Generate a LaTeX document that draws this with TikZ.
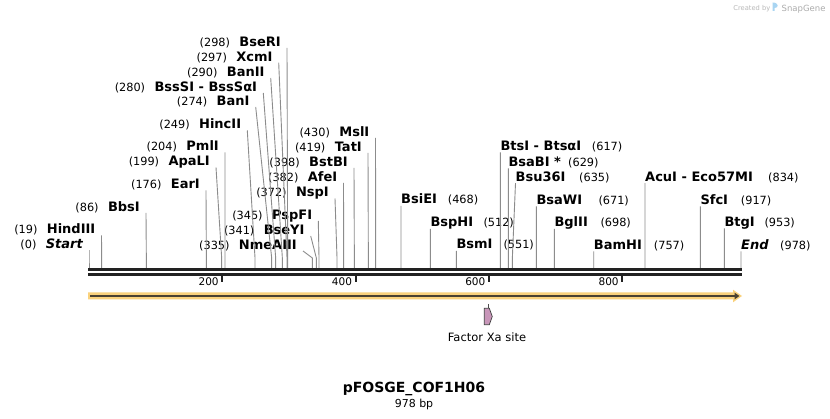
\documentclass[tikz,border=0pt]{standalone}
\usepackage{fontspec}
\setmainfont{DejaVu Sans}
\usetikzlibrary{positioning,arrows.meta}

\definecolor{cutgray}{HTML}{8C8C8C}
\definecolor{axisblk}{HTML}{222222}
\definecolor{featorange}{HTML}{FAD27D}
\definecolor{featdark}{HTML}{4B4232}
\definecolor{xapink}{HTML}{C896B9}
\definecolor{sgblue}{HTML}{A9D5F2}

\tikzset{
  enz/.style={inner sep=0pt, font=\fontsize{13}{15}\selectfont\bfseries},
  num/.style={inner sep=0pt, font=\fontsize{11.3}{13}\selectfont},
  cutline/.style={draw=cutgray, line width=0.9pt},
  ticklbl/.style={inner sep=0pt, font=\fontsize{10.5}{12}\selectfont},
}

\begin{document}
\begin{tikzpicture}[x=1pt,y=-1pt]
  \fill[white] (0,0) rectangle (830,419);
  \useasboundingbox (0,0) rectangle (830,419);

  \node[inner sep=0pt, anchor=base east, text=gray!55, font=\fontsize{6.7}{8}\selectfont] (made) at (770.5,11) {Created by};
  \fill[sgblue] (772.5,11) -- (772.5,2.5) .. controls (779,2.5) and (779,8) .. (774.7,8) -- (774.7,11) -- cycle;
  \node[inner sep=0pt, anchor=base west, text=gray!65, font=\fontsize{8.5}{10}\selectfont] (sg) at (781.5,11.5) {SnapGene};

  % left hand labels
  \node[enz, anchor=base east] (st) at (83,249) {\itshape Start};
  \node[num, base left=9pt of st] (stN) {(0)};
  \node[enz, anchor=base east] (hind) at (95.5,234) {HindIII};
  \node[num, base left=9pt of hind] (hindN) {(19)};
  \node[enz, anchor=base east] (bbs) at (140,211.5) {BbsI};
  \node[num, base left=9pt of bbs] (bbsN) {(86)};
  \node[enz, anchor=base east] (ear) at (200,189) {EarI};
  \node[num, base left=9pt of ear] (earN) {(176)};
  \node[enz, anchor=base east] (apal) at (210,166) {ApaLI};
  \node[num, base left=9pt of apal] (apalN) {(199)};
  \node[enz, anchor=base east] (pml) at (219,151) {PmlI};
  \node[num, base left=9pt of pml] (pmlN) {(204)};
  \node[enz, anchor=base east] (hinc) at (241.3,129) {HincII};
  \node[num, base left=9pt of hinc] (hincN) {(249)};
  \node[enz, anchor=base east] (ban) at (249.7,105.5) {BanI};
  \node[num, base left=9pt of ban] (banN) {(274)};
  \node[enz, anchor=base east] (bsss) at (257.3,91.5) {BssSI - BssSαI};
  \node[num, base left=9pt of bsss] (bsssN) {(280)};
  \node[enz, anchor=base east] (banii) at (264.7,76.5) {BanII};
  \node[num, base left=9pt of banii] (baniiN) {(290)};
  \node[enz, anchor=base east] (xcm) at (272.7,61.2) {XcmI};
  \node[num, base left=9pt of xcm] (xcmN) {(297)};
  \node[enz, anchor=base east] (bser) at (281,46.5) {BseRI};
  \node[num, base left=9pt of bser] (bserN) {(298)};
  \node[enz, anchor=base east] (nme) at (297,249.5) {NmeAIII};
  \node[num, base left=9pt of nme] (nmeN) {(335)};
  \node[enz, anchor=base east] (bsey) at (304.7,234.5) {BseYI};
  \node[num, base left=9pt of bsey] (bseyN) {(341)};
  \node[enz, anchor=base east] (pspf) at (312.3,219.5) {PspFI};
  \node[num, base left=9pt of pspf] (pspfN) {(345)};
  \node[enz, anchor=base east] (nsp) at (329,197) {NspI};
  \node[num, base left=9pt of nsp] (nspN) {(372)};
  \node[enz, anchor=base east] (afe) at (337.5,181.5) {AfeI};
  \node[num, base left=9pt of afe] (afeN) {(382)};
  \node[enz, anchor=base east] (bstb) at (348,166.5) {BstBI};
  \node[num, base left=9pt of bstb] (bstbN) {(398)};
  \node[enz, anchor=base east] (tat) at (362,151.5) {TatI};
  \node[num, base left=9pt of tat] (tatN) {(419)};
  \node[enz, anchor=base east] (msl) at (369.5,136.5) {MslI};
  \node[num, base left=9pt of msl] (mslN) {(430)};

  % right hand labels
  \node[enz, anchor=base west] (bsie) at (401,204) {BsiEI};
  \node[num, anchor=base west] (bsieN) at (447.7,204) {(468)};
  \node[enz, anchor=base west] (bsph) at (430.3,227) {BspHI};
  \node[num, anchor=base west] (bsphN) at (483.3,227) {(512)};
  \node[enz, anchor=base west] (bsm) at (456.3,249) {BsmI};
  \node[num, anchor=base west] (bsmN) at (503.3,249) {(551)};
  \node[enz, anchor=base west] (bts) at (500.3,150.5) {BtsI - BtsαI};
  \node[num, anchor=base west] (btsN) at (591.7,150.5) {(617)};
  \node[enz, anchor=base west] (bsab) at (508.3,166.5) {BsaBI *};
  \node[num, anchor=base west] (bsabN) at (568,166.5) {(629)};
  \node[enz, anchor=base west] (bsu) at (515.5,181.2) {Bsu36I};
  \node[num, anchor=base west] (bsuN) at (579,181.2) {(635)};
  \node[enz, anchor=base west] (bsaw) at (536.3,204.5) {BsaWI};
  \node[num, anchor=base west] (bsawN) at (598.3,204.5) {(671)};
  \node[enz, anchor=base west] (bgl) at (554.3,226.8) {BglII};
  \node[num, anchor=base west] (bglN) at (600.3,226.8) {(698)};
  \node[enz, anchor=base west] (bam) at (593.7,249.5) {BamHI};
  \node[num, anchor=base west] (bamN) at (653.7,249.5) {(757)};
  \node[enz, anchor=base west] (acu) at (645,181.2) {AcuI - Eco57MI};
  \node[num, anchor=base west] (acuN) at (768,181.2) {(834)};
  \node[enz, anchor=base west] (sfc) at (700.3,204.5) {SfcI};
  \node[num, anchor=base west] (sfcN) at (740.7,204.5) {(917)};
  \node[enz, anchor=base west] (btg) at (724.3,226.5) {BtgI};
  \node[num, anchor=base west] (btgN) at (764.3,226.5) {(953)};
  \node[enz, anchor=base west] (en) at (741,249.5) {\itshape End};
  \node[num, anchor=base west] (enN) at (780,249.5) {(978)};

  \foreach \n/\p in {st/0,hind/19,bbs/86,ear/176,apal/199,pml/204,hinc/249,ban/274,bsss/280,banii/290,xcm/297,bser/298,nme/335,bsey/341,pspf/345,nsp/372,afe/382,bstb/398,tat/419,msl/430}{
    \coordinate (c\n) at ({89+\p*0.6667},269);
    \draw[cutline] ([shift={(6,1.5)}]\n.base east) -- ({89+\p*0.6667},258) -- (c\n);
  }
  \foreach \n/\p in {bsie/468,bsph/512,bsm/551,bts/617,bsab/629,bsu/635,bsaw/671,bgl/698,bam/757,acu/834,sfc/917,btg/953,en/978}{
    \coordinate (c\n) at ({89+\p*0.6667},269);
    \draw[cutline] ([shift={(0,2)}]\n.base west) -- ({89+\p*0.6667},258) -- (c\n);
  }

  % sequence axis
  \draw[axisblk, line width=3pt] (88,270) -- (741.7,270);
  \draw[axisblk, line width=2.6pt] (88,274.4) -- (741.7,274.4);
  \foreach \t in {200,400,600,800}{
    \draw[axisblk, line width=2pt] ({89+\t*0.6667},275.5) -- ++(0,6.8);
    \node[ticklbl, anchor=base east] (t\t) at ({85.5+\t*0.6667},285.8) {\t};
  }

  % features
  \fill[featorange] (88,292.5) -- (733,292.5) -- (733,289.7) -- (742,296) -- (733,302.3) -- (733,299.3) -- (88,299.3) -- cycle;
  \draw[featdark, line width=2.2pt, -{Triangle[length=5pt,width=6.5pt]}] (90,296) -- (739.5,296);
  \draw[gray!60!black, line width=0.8pt] (488.7,304) -- (488.7,308.3);
  \filldraw[fill=xapink, draw=gray!50!black, line width=0.7pt] (484.3,308.3) -- (489.3,308.3) -- (492.3,316.5) -- (489.3,324.7) -- (484.3,324.7) -- cycle;
  \node[inner sep=0pt, anchor=base, font=\fontsize{11.5}{13}\selectfont] (xa) at (487,342) {Factor Xa site};

  \node[inner sep=0pt, anchor=base, font=\fontsize{14}{16}\selectfont\bfseries] (title) at (414,393) {pFOSGE\_COF1H06};
  \node[inner sep=0pt, anchor=base, font=\fontsize{11}{13}\selectfont] (len) at (414,407) {978 bp};
\end{tikzpicture}
\end{document}
